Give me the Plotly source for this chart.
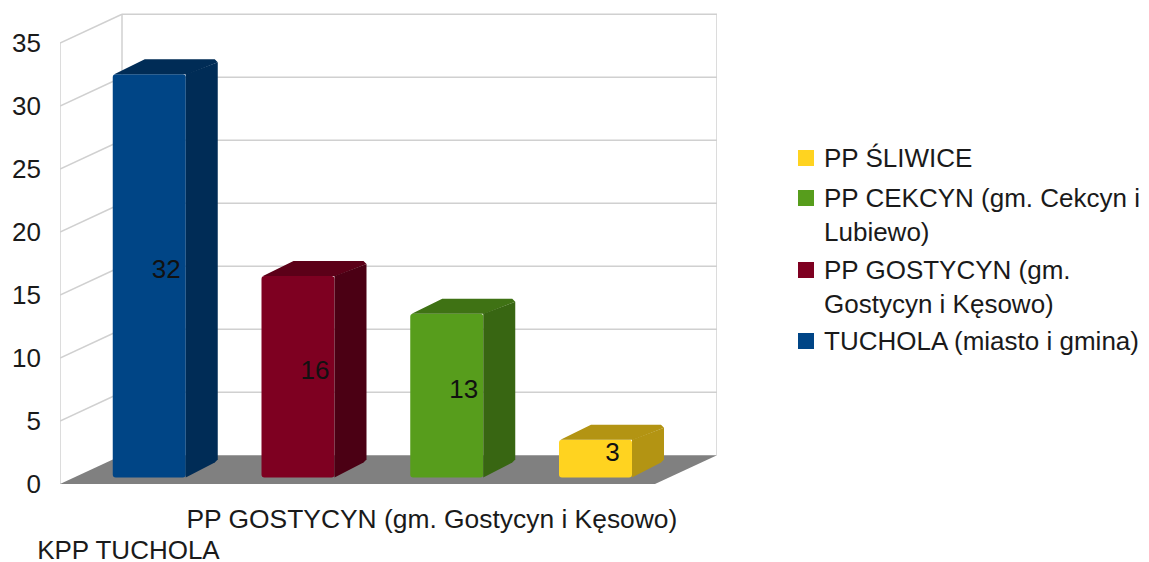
import plotly.graph_objects as go

categories = ["KPP TUCHOLA", "PP GOSTYCYN", "PP CEKCYN", "PP ŚLIWICE"]
values = [32, 16, 13, 3]
series_names = ["TUCHOLA (miasto i gmina)", "PP GOSTYCYN (gm.<br>Gostycyn i Kęsowo)",
                "PP CEKCYN (gm. Cekcyn i<br>Lubiewo)", "PP ŚLIWICE"]
front_colors = ["#004586", "#7e0021", "#579d1c", "#ffd320"]
side_colors = ["#002c56", "#4b0014", "#386612", "#b39413"]
top_colors = ["#002c56", "#5c0018", "#3f7214", "#b39413"]
y_ticks = [0, 5, 10, 15, 20, 25, 30, 35]
x_tick_positions = [0.46, 2.5]
x_tick_names = ["KPP TUCHOLA", "PP GOSTYCYN (gm. Gostycyn i Kęsowo)"]

W, H = 1149, 562
ML, MR, MT, MB = 60, 432, 13, 78
PX_X = 148.75
PX_Y = 12.6
XMAX = 657 / PX_X
YMAX = 471 / PX_Y
WALL_DX = 62 / PX_X
WALL_DY = 28.7 / PX_Y
FRONT = 4.0
BAR_W = 73 / PX_X
BAR_BASE = 6.5 / PX_Y
BAR_DX = 32 / PX_X
BAR_DY = 15 / PX_Y
CX = 3 / PX_X
CY = 3 / PX_Y
centers = [i + 0.6 for i in range(len(values))]

GRID = "#d0d0d0"
FONT = "Liberation Sans"
INK = "#1a1a1a"
shapes = []


def line(x0, y0, x1, y1):
    shapes.append(dict(type="line", xref="x", yref="y", x0=x0, y0=y0, x1=x1, y1=y1,
                       line=dict(color=GRID, width=1.5), layer="below"))


for v in y_ticks:
    if v:
        line(0, v, WALL_DX, v + WALL_DY)
        line(WALL_DX, v + WALL_DY, XMAX, v + WALL_DY)
line(0, 0, 0, 35)
line(WALL_DX, WALL_DY, WALL_DX, 35 + WALL_DY)
line(XMAX, WALL_DY, XMAX, 35 + WALL_DY)
shapes.append(dict(type="path", xref="x", yref="y", layer="below",
                   path=f"M 0 0 L {FRONT} 0 L {XMAX} {WALL_DY} L {WALL_DX} {WALL_DY} Z",
                   fillcolor="#808080", line=dict(width=0)))

fig = go.Figure()
fig.add_trace(go.Bar(x=centers, y=values, base=BAR_BASE, width=BAR_W,
                     marker=dict(color=front_colors, line=dict(width=0), cornerradius=3),
                     showlegend=False, hoverinfo="skip"))
for c, v, side, top in zip(centers, values, side_colors, top_colors):
    l, r = c - BAR_W / 2, c + BAR_W / 2
    t, b = v + BAR_BASE, BAR_BASE
    fig.add_trace(go.Scatter(
        x=[l + 0.01, l + BAR_DX, r + BAR_DX - CX, r + BAR_DX, r, r],
        y=[t, t + BAR_DY, t + BAR_DY, t + BAR_DY - CY, t - CY * 0.2, t],
        fill="toself", fillcolor=top, mode="none", showlegend=False, hoverinfo="skip"))
    fig.add_trace(go.Scatter(
        x=[r, r + BAR_DX, r + BAR_DX, r + BAR_DX - CX, r],
        y=[t, t + BAR_DY - CY, b + BAR_DY + CY, b + BAR_DY, b],
        fill="toself", fillcolor=side, mode="none", showlegend=False, hoverinfo="skip"))

fig.add_trace(go.Scatter(x=[c + 17 / PX_X for c in centers], y=[v / 2 + 0.85 for v in values],
                         text=[str(v) for v in values], mode="text",
                         textposition="middle center",
                         textfont=dict(family=FONT, size=26, color="#111111"),
                         showlegend=False, hoverinfo="skip"))

# Legend drawn by hand so each swatch sits on the first line of its entry.
annotations = []
legend_first_line_px = [341, 270, 198, 158]
for i, py in enumerate(legend_first_line_px):
    shapes.append(dict(type="rect", xref="paper", yref="paper", line=dict(width=0),
                       x0=(798 - ML) / (W - ML - MR), x1=(814 - ML) / (W - ML - MR),
                       y0=(H - MB - py - 8) / (H - MT - MB), y1=(H - MB - py + 8) / (H - MT - MB),
                       fillcolor=front_colors[i]))
    annotations.append(dict(xref="paper", yref="paper", x=(823.5 - ML) / (W - ML - MR),
                            y=(H - MB - py + 16.5) / (H - MT - MB),
                            xanchor="left", yanchor="top", align="left", showarrow=False,
                            borderpad=0, text=series_names[i],
                            font=dict(family=FONT, size=26, color=INK)))

x_tick_labels = [f'<br><span style="font-size:26px">{x_tick_names[0]}</span>',
                 f'<span style="font-size:26.4px">{x_tick_names[1]}</span><br> ']

fig.update_layout(
    width=W, height=H, margin=dict(l=ML, r=MR, t=MT, b=MB, autoexpand=False),
    paper_bgcolor="white", plot_bgcolor="white", shapes=shapes, annotations=annotations,
    showlegend=False, font=dict(family=FONT, size=26, color=INK),
    xaxis=dict(range=[0, XMAX], showgrid=False, zeroline=False, showline=False, automargin=False,
               tickmode="array", tickvals=x_tick_positions, ticktext=x_tick_labels,
               tickfont=dict(size=24), tickangle=0, ticks="", ticklabelstandoff=19),
    yaxis=dict(range=[0, YMAX], showgrid=False, zeroline=False, showline=False, automargin=False,
               tickmode="array", tickvals=y_ticks, ticks="", ticklabelstandoff=18),
)
fig.write_html("out.html", config=dict(displayModeBar=False),
               post_script="document.body.style.margin='0';document.body.style.overflow='hidden';")
